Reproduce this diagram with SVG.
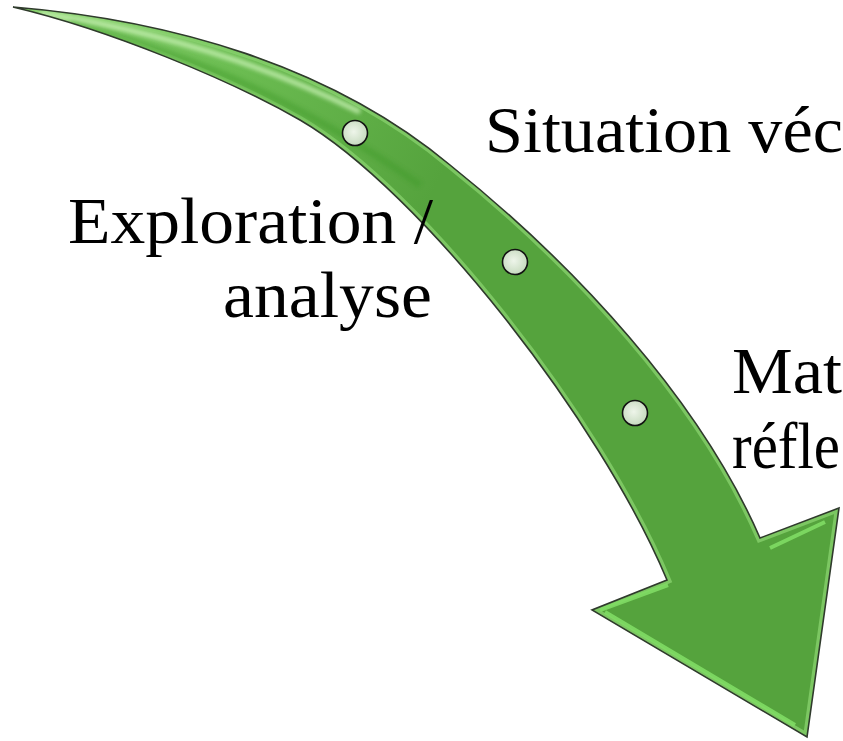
<svg xmlns="http://www.w3.org/2000/svg" width="843" height="741" viewBox="0 0 843 741">
<style>
.lbl{font-family:"Liberation Serif","DejaVu Serif",serif;font-size:66px;fill:#000}
.dot{fill:url(#dotg);stroke:#111;stroke-width:1.6}
</style>
<defs>
<linearGradient id="bodyg" gradientUnits="userSpaceOnUse" x1="0" y1="0" x2="430" y2="200">
<stop offset="0" stop-color="#8fd476"/>
<stop offset="0.5" stop-color="#6cbd52"/>
<stop offset="1" stop-color="#55a33d"/>
</linearGradient>
<radialGradient id="dotg" cx="0.45" cy="0.45" r="0.6">
<stop offset="0" stop-color="#eef5ea"/>
<stop offset="1" stop-color="#c3d8bb"/>
</radialGradient>
<clipPath id="arrowclip">
<path id="arrowshape" d="M13,7 C170,20 330,65 450,165 C575,265 700,400 760,538 L839,508 L807,737 L592,610 L667,580 C600,420 420,190 300,120 C230,80 110,30 13,7 Z"/>
</clipPath>
<filter id="blur" x="-10%" y="-10%" width="120%" height="120%"><feGaussianBlur stdDeviation="2"/></filter>
</defs>
<g id="arrow">
<use href="#arrowshape" fill="url(#bodyg)"/>
<g clip-path="url(#arrowclip)">
<use href="#arrowshape" fill="none" stroke="#86cf6c" stroke-width="8" opacity="0.8"/>
<path d="M40,13 C150,30 260,62 360,112" fill="none" stroke="#c8f2b4" stroke-width="5" filter="url(#blur)" opacity="0.85"/>
<path d="M70,24 C180,50 300,100 420,185" fill="none" stroke="#3f9a2a" stroke-width="7" filter="url(#blur)" opacity="0.45"/>
<path d="M770,548 L825,522 M600,610 L668,585 M605,612 L795,725" fill="none" stroke="#7fdc64" stroke-width="4" opacity="0.9"/>
</g>
<use href="#arrowshape" fill="none" stroke="#2f3a2c" stroke-width="1.6"/>
</g>
<g id="dots">
<circle class="dot" cx="355" cy="133" r="12.5"/>
<circle class="dot" cx="515" cy="262" r="12.5"/>
<circle class="dot" cx="635" cy="413" r="12.5"/>
</g>
<g id="labels">
<text class="lbl" x="485" y="152" textLength="358" lengthAdjust="spacingAndGlyphs">Situation véc</text>
<text class="lbl" x="68" y="243" textLength="365" lengthAdjust="spacingAndGlyphs">Exploration /</text>
<text class="lbl" x="223" y="317" textLength="209" lengthAdjust="spacingAndGlyphs">analyse</text>
<text class="lbl" x="732" y="393" textLength="110" lengthAdjust="spacingAndGlyphs">Mat</text>
<text class="lbl" x="732" y="468" textLength="108" lengthAdjust="spacingAndGlyphs">réfle</text>
</g>
</svg>
